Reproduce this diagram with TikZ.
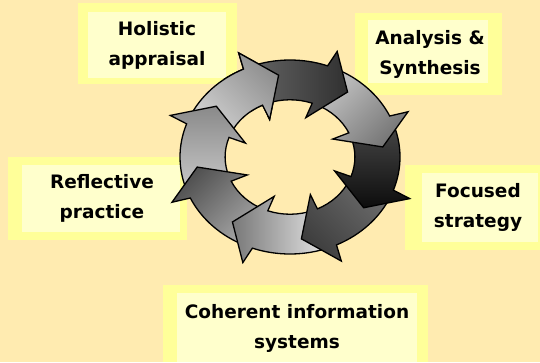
\documentclass[tikz,border=0pt]{standalone}
\usepackage{fontspec}
\setmainfont{DejaVu Sans}
\definecolor{bg}{HTML}{FFEBB0}
\definecolor{glow}{HTML}{FFFF99}
\definecolor{boxin}{HTML}{FFFFCC}
\newcommand{\ringarrowpath}[1]{(#1+41:0.59) -- (#1+41:1) arc[start angle=#1+41, end angle=#1, radius=1] -- (#1-1.5:1.17) -- (#1-18:0.85) -- (#1+0.5:0.43) -- (#1:0.59) arc[start angle=#1, end angle=#1+41, radius=0.59] -- cycle}
\begin{document}
\begin{tikzpicture}[x=1pt,y=-1pt,
  glowbox/.style={fill=glow, draw=none},
  innerbox/.style={fill=boxin, draw=none},
  lbl/.style={font=\bfseries\fontsize{18.5}{30}\selectfont, align=center, inner sep=0pt, text=black},
  ringarrow/.style={draw=black, line width=1.3pt, line join=miter}]
\useasboundingbox (0,0) rectangle (540,362);
\fill[bg] (0,0) rectangle (540,362);
% label boxes
\fill[glowbox] (78,3) rectangle (237,84);
\fill[innerbox] (88,12) rectangle (226,78);
\fill[glowbox] (355,13) rectangle (502,95);
\fill[innerbox] (368,20) rectangle (488,83);
\fill[glowbox] (8,157) rectangle (187,240);
\fill[innerbox] (22,165) rectangle (180,232);
\fill[glowbox] (405,165) rectangle (540,250);
\fill[innerbox] (422,173) rectangle (538,242);
\fill[glowbox] (163,285) rectangle (428,362);
\fill[innerbox] (177,293) rectangle (417,362);
% labels
\node[lbl] (holistic) at (157,45) {Holistic\\appraisal};
\node[lbl] (analysis) at (430,54) {Analysis \&\\Synthesis};
\node[lbl] (reflective) at (102,198) {Reflective\\practice};
\node[lbl] (focused) at (478,207) {Focused\\strategy};
\node[lbl] (coherent) at (297,328) {Coherent information\\systems};
% ring of arrows
\begin{scope}[shift={(290pt,-157pt)}, x=110pt, y=97pt]
\shadedraw[ringarrow, top color=black!44, bottom color=black!18, shading angle=-45] \ringarrowpath{115};
\shadedraw[ringarrow, top color=black!46, bottom color=black!21, shading angle=0] \ringarrowpath{160};
\shadedraw[ringarrow, top color=black!69, bottom color=black!34, shading angle=45] \ringarrowpath{-155};
\shadedraw[ringarrow, top color=black!53, bottom color=black!9, shading angle=90] \ringarrowpath{-110};
\shadedraw[ringarrow, top color=black!76, bottom color=black!58, shading angle=135] \ringarrowpath{-65};
\shadedraw[ringarrow, top color=black!95, bottom color=black!72, shading angle=-180] \ringarrowpath{-20};
\shadedraw[ringarrow, top color=black!54, bottom color=black!23, shading angle=-135] \ringarrowpath{25};
\shadedraw[ringarrow, top color=black!81, bottom color=black!61, shading angle=-90] \ringarrowpath{70};
\begin{scope}
\clip (0,0) -- (127:1.5) -- (105:1.6) -- (83:1.5) -- cycle;
\shadedraw[ringarrow, top color=black!44, bottom color=black!18, shading angle=-45] \ringarrowpath{115};
\end{scope}
\end{scope}
\end{tikzpicture}
\end{document}
